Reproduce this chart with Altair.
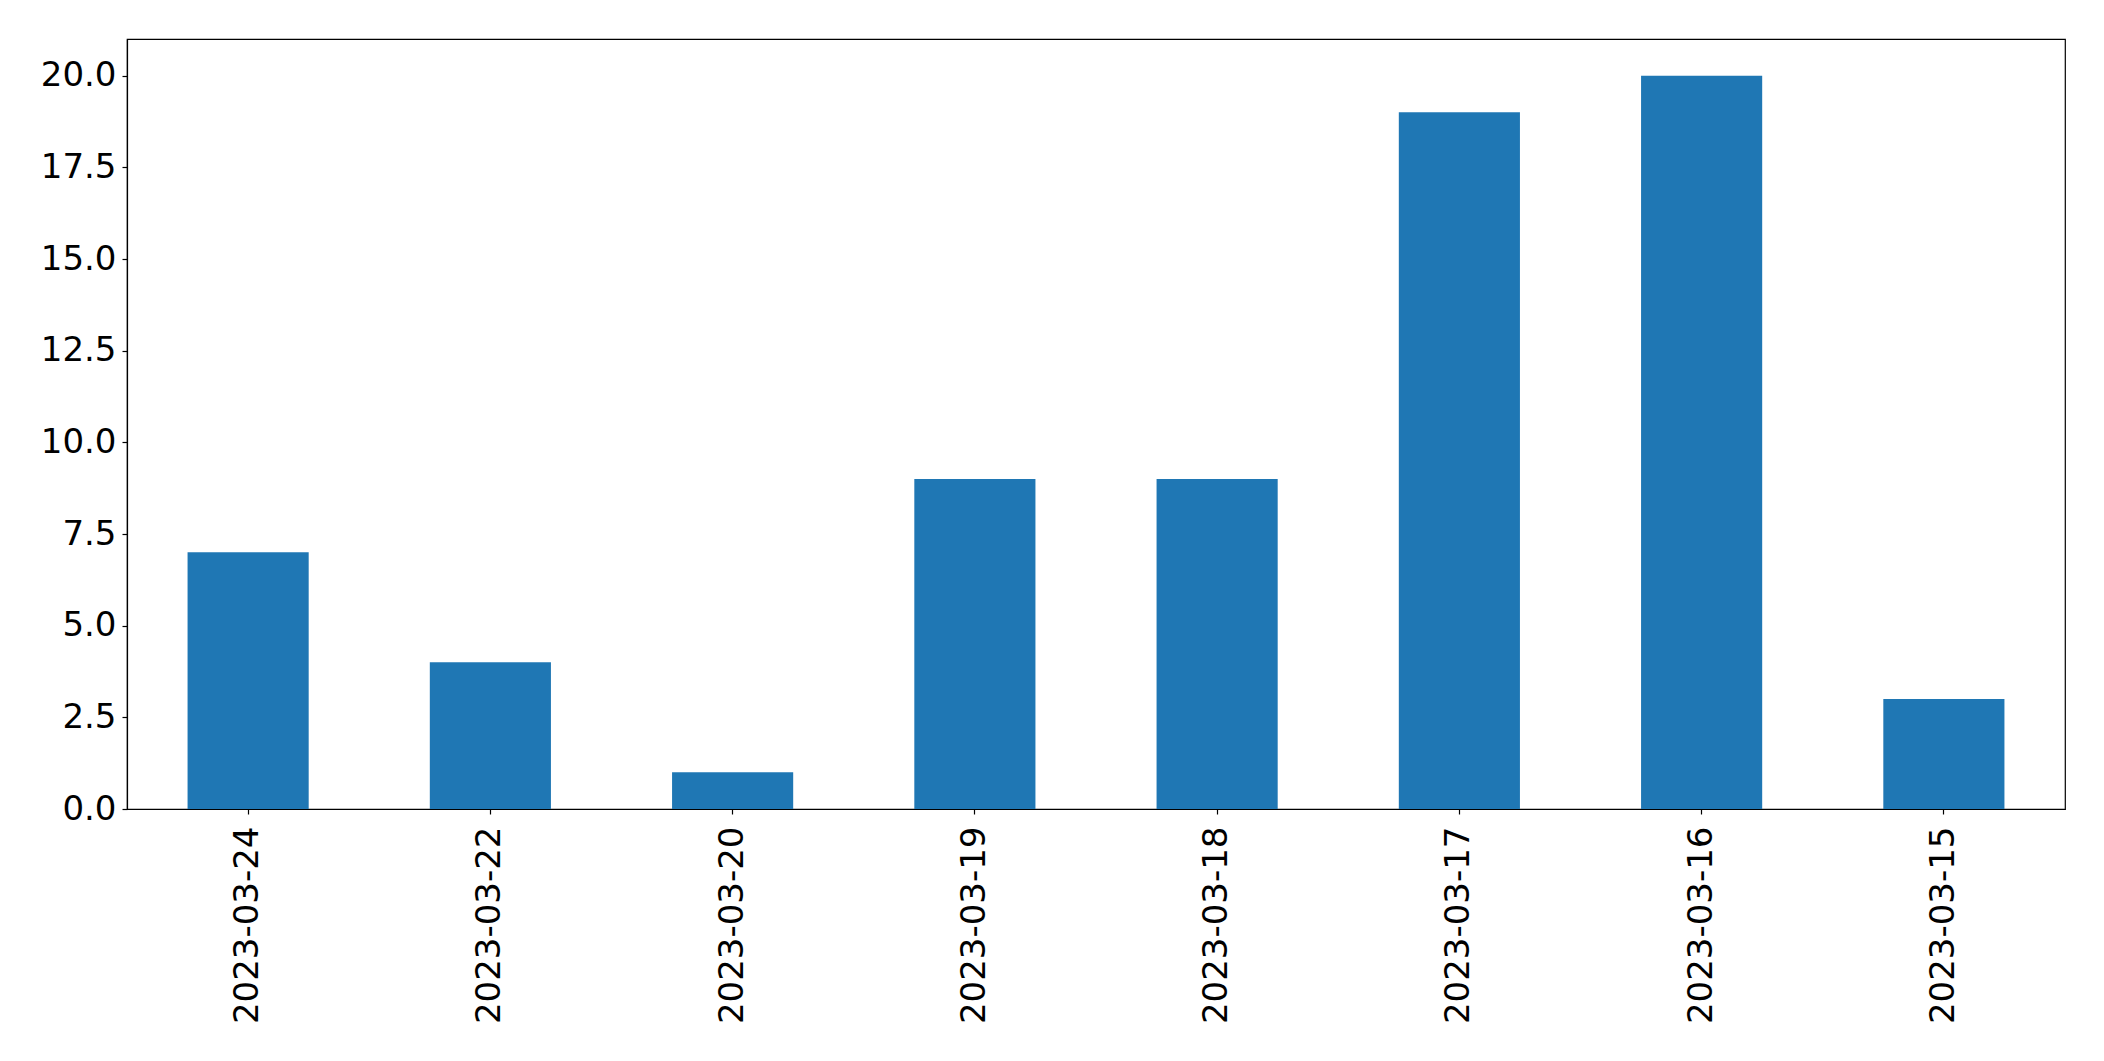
import altair as alt
import pandas as pd

dates = ["2023-03-24", "2023-03-22", "2023-03-20", "2023-03-19",
         "2023-03-18", "2023-03-17", "2023-03-16", "2023-03-15"]
counts = [7, 4, 1, 9, 9, 19, 20, 3]
y_ticks = [0, 2.5, 5, 7.5, 10, 12.5, 15, 17.5, 20]

df = pd.DataFrame({"date": dates, "count": counts})

chart = alt.Chart(df).mark_bar(color="#1f77b4").encode(
    x=alt.X("date:N", sort=dates, title=None,
            scale=alt.Scale(paddingInner=0.5, paddingOuter=0.25),
            axis=alt.Axis(labelAngle=-90, labelFontSize=34, labelFont="DejaVu Sans",
                          labelColor="black", tickColor="black", domainColor="black",
                          tickSize=5, labelPadding=12, labelLimit=0)),
    y=alt.Y("count:Q", title=None,
            scale=alt.Scale(domain=[0, 21], nice=False),
            axis=alt.Axis(values=y_ticks, format=".1f", labelFontSize=34,
                          labelFont="DejaVu Sans", labelColor="black",
                          tickColor="black", domainColor="black", tickSize=5,
                          labelPadding=6, grid=False)),
).properties(
    width=1938, height=770,
    autosize=alt.AutoSizeParams(type="none"),
    padding={"left": 119, "top": 31, "right": 20, "bottom": 240},
).configure_view(stroke="black", strokeWidth=1.2).configure_axis(domainWidth=1.2, tickWidth=1.2)

chart.save("out.html", embed_options={"renderer": "svg", "actions": False})
